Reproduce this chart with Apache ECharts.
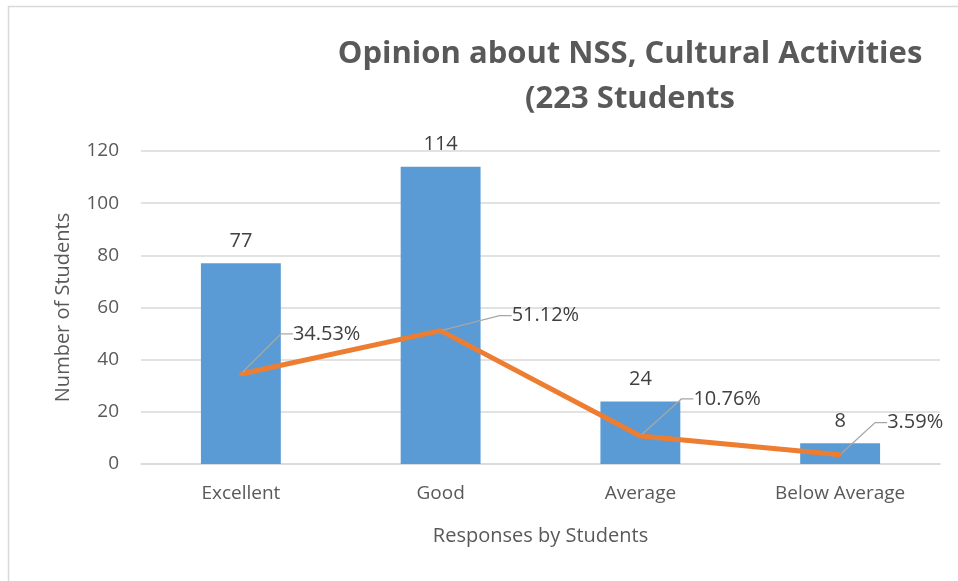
<!DOCTYPE html>
<html><head><meta charset="utf-8">
<script src="https://cdn.jsdelivr.net/npm/echarts@6/dist/echarts.min.js"></script>
<style>html,body{margin:0;padding:0;background:#fff}#c{width:958px;height:581px}</style>
</head><body><div id="c"></div>
<script>
const categories = ['Excellent', 'Good', 'Average', 'Below Average'];
const counts = [77, 114, 24, 8];
const percents = [34.53, 51.12, 10.76, 3.59];
const yTicks = [0, 20, 40, 60, 80, 100, 120];
const labelOffsets = [[45, -40], [64, -15], [46, -37], [40, -32]];

const FONT = '"Open Sans", "Noto Sans", sans-serif';
const chart = echarts.init(document.getElementById('c'), null, {renderer: 'canvas'});
chart.setOption({
  backgroundColor: '#fff',
  animation: false,
  graphic: [{
    type: 'rect', shape: {x: 8.5, y: 6.5, width: 1000, height: 600},
    style: {fill: 'none', stroke: '#d9d9d9', lineWidth: 1.5}, silent: true
  }],
  title: {
    text: 'Opinion about NSS, Cultural Activities\n(223 Students',
    left: 625, top: 27, textAlign: 'center',
    textStyle: {fontFamily: FONT, fontSize: 31, fontWeight: 'bold', color: '#595959', lineHeight: 45}
  },
  grid: {left: 141, right: 18, top: 151, bottom: 117, containLabel: false},
  xAxis: {
    type: 'category', data: categories,
    axisLine: {lineStyle: {color: '#d9d9d9', width: 1.5}},
    axisTick: {show: false},
    axisLabel: {fontFamily: FONT, fontSize: 19, color: '#595959', margin: 20},
    name: 'Responses by Students', nameLocation: 'middle', nameGap: 62,
    nameTextStyle: {fontFamily: FONT, fontSize: 20, color: '#595959'}
  },
  yAxis: {
    type: 'value', min: yTicks[0], max: yTicks[yTicks.length - 1], interval: 20,
    axisLine: {show: false}, axisTick: {show: false},
    splitLine: {lineStyle: {color: '#d9d9d9', width: 1.5}},
    axisLabel: {fontFamily: FONT, fontSize: 19, color: '#595959', margin: 22},
    name: 'Number of Students', nameLocation: 'middle', nameGap: 68, nameRotate: 90,
    nameTextStyle: {fontFamily: FONT, fontSize: 20, color: '#595959'}
  },
  series: [{
    type: 'bar', data: counts, barWidth: '40%',
    itemStyle: {color: '#5B9BD5'},
    label: {show: true, position: 'top', distance: 12, fontFamily: FONT, fontSize: 20, color: '#404040'}
  }, {
    type: 'line', data: percents,
    symbol: 'circle', symbolSize: 4,
    itemStyle: {color: '#ED7D31'},
    lineStyle: {color: '#ED7D31', width: 5},
    label: {show: true, position: 'right', distance: 0, fontFamily: FONT, fontSize: 20, color: '#404040',
      padding: [0, 0, 0, 5],
      formatter: p => p.value.toFixed(2) + '%'},
    labelLine: {show: true, length2: 12, lineStyle: {color: '#a6a6a6', width: 1.3}},
    labelLayout: p => ({dx: labelOffsets[p.dataIndex][0], dy: labelOffsets[p.dataIndex][1]}),
    z: 3
  }]
});
</script></body></html>
